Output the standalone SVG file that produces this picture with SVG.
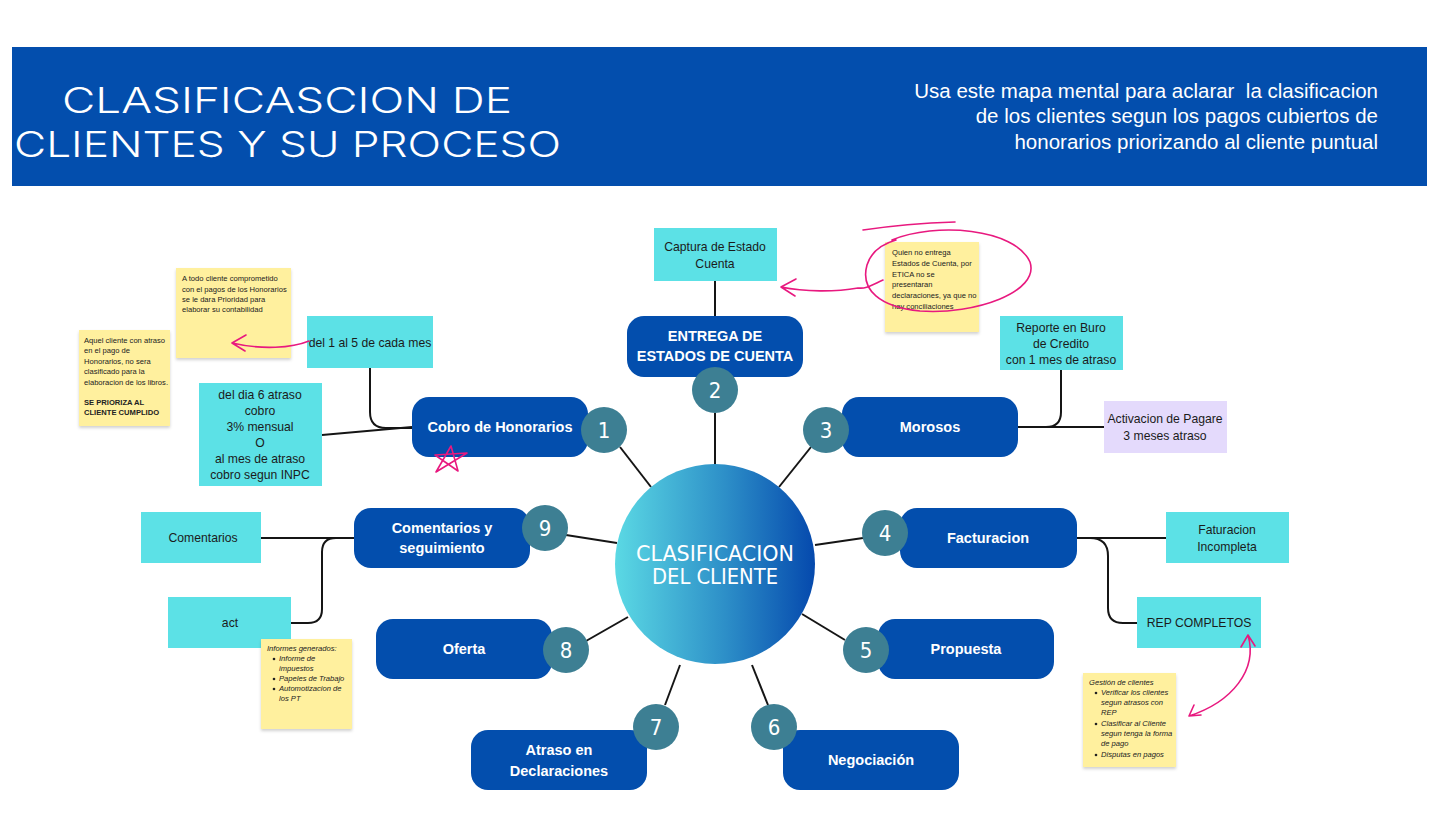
<svg xmlns="http://www.w3.org/2000/svg" width="1440" height="839" viewBox="0 0 1440 839">
<defs>
<linearGradient id="hubGrad" x1="0" y1="0" x2="1" y2="0">
<stop offset="0" stop-color="#5bd9e4"/>
<stop offset="0.55" stop-color="#2d8fc8"/>
<stop offset="1" stop-color="#0549ad"/>
</linearGradient>
<filter id="sh" x="-10%" y="-10%" width="120%" height="125%">
<feDropShadow dx="0" dy="2" stdDeviation="1.5" flood-color="#000" flood-opacity="0.18"/>
</filter>
</defs>
<style>
.node{fill:#034ead}
.num{fill:#3d7f93}
.numt{font-family:"DejaVu Sans Condensed","DejaVu Sans",sans-serif;font-size:22px;fill:#fff;text-anchor:middle}
.nt{font-family:"Liberation Sans",Arial,sans-serif;font-weight:bold;font-size:14.5px;fill:#fff;text-anchor:middle}
.cy{fill:#5ce1e6}
.lav{fill:#e4dafc}
.ct{font-family:"Liberation Sans",Arial,sans-serif;font-size:12.2px;fill:#1b1b1b;text-anchor:middle}
.st{fill:#fff09e;filter:url(#sh)}
.sn{font-family:"Liberation Sans",Arial,sans-serif;font-size:7.6px;fill:#222}
.si{font-family:"Liberation Sans",Arial,sans-serif;font-size:7.6px;fill:#222;font-style:italic}
.con{fill:none;stroke:#151515;stroke-width:2}
.pk{fill:none;stroke:#e8197f;stroke-width:1.6;stroke-linecap:round;stroke-linejoin:round}
.title{font-family:"Inter","DejaVu Sans",sans-serif;font-weight:300;font-size:35px;fill:#fff}
.sub{font-family:"Liberation Sans",Arial,sans-serif;font-size:20.5px;fill:#fff;text-anchor:end;white-space:pre}
</style>
<rect width="1440" height="839" fill="#fff"/>

<g id="header">
<rect x="12" y="47" width="1415" height="139" fill="#034ead"/>
<text class="title" x="62" y="113" textLength="450" lengthAdjust="spacingAndGlyphs">CLASIFICASCION DE</text>
<text class="title" x="14" y="157" textLength="547" lengthAdjust="spacingAndGlyphs">CLIENTES Y SU PROCESO</text>
<text class="sub" x="1378" y="98">Usa este mapa mental para aclarar  la clasificacion</text>
<text class="sub" x="1378" y="123">de los clientes segun los pagos cubiertos de</text>
<text class="sub" x="1378" y="149">honorarios priorizando al cliente puntual</text>
</g>

<g id="connectors">
<line class="con" x1="715" y1="413" x2="715" y2="465"/>
<line class="con" x1="620" y1="447" x2="651" y2="487"/>
<line class="con" x1="811" y1="447" x2="779" y2="487"/>
<line class="con" x1="863" y1="538" x2="815" y2="545"/>
<line class="con" x1="845" y1="640" x2="802" y2="614"/>
<line class="con" x1="768" y1="705" x2="752" y2="665"/>
<line class="con" x1="665" y1="705" x2="680" y2="665"/>
<line class="con" x1="586" y1="641" x2="628" y2="617"/>
<line class="con" x1="566" y1="535" x2="617" y2="543"/>
<line class="con" x1="715" y1="281" x2="715" y2="316"/>
<path class="con" d="M370,368 V412 Q370,428 386,428 H412"/>
<path class="con" d="M322,435 L412,427"/>
<path class="con" d="M1018,427 H1104"/>
<path class="con" d="M1061,370 V412 Q1061,427 1046,427 H1030"/>
<path class="con" d="M261,538 H354"/>
<path class="con" d="M291,623 H308 Q322,623 322,609 V552 Q322,538 336,538 H354"/>
<path class="con" d="M1077,538 H1166"/>
<path class="con" d="M1090,538 Q1108,538 1108,556 V608 Q1108,623 1123,623 H1137"/>
</g>

<g id="hub">
<circle cx="715" cy="564" r="100" fill="url(#hubGrad)"/>
<text x="715" y="561" font-family="DejaVu Sans Condensed,DejaVu Sans,sans-serif" font-size="22" fill="#fff" text-anchor="middle" textLength="158" lengthAdjust="spacingAndGlyphs">CLASIFICACION</text>
<text x="715" y="584" font-family="DejaVu Sans Condensed,DejaVu Sans,sans-serif" font-size="22" fill="#fff" text-anchor="middle" textLength="126" lengthAdjust="spacingAndGlyphs">DEL CLIENTE</text>
</g>

<g id="node2">
<rect class="node" x="627" y="316" width="176" height="61" rx="17"/>
<text class="nt" x="715" y="341">ENTREGA DE</text>
<text class="nt" x="715" y="361">ESTADOS DE CUENTA</text>
<circle class="num" cx="715" cy="390" r="23"/>
<text class="numt" x="715" y="398">2</text>
</g>
<g id="node1">
<rect class="node" x="412" y="397" width="176" height="60" rx="17"/>
<text class="nt" x="500" y="432">Cobro de Honorarios</text>
<circle class="num" cx="604" cy="430" r="23"/>
<text class="numt" x="604" y="438">1</text>
</g>
<g id="node3">
<rect class="node" x="842" y="397" width="176" height="60" rx="17"/>
<text class="nt" x="930" y="432">Morosos</text>
<circle class="num" cx="826" cy="430" r="23"/>
<text class="numt" x="826" y="438">3</text>
</g>
<g id="node4">
<rect class="node" x="900" y="508" width="177" height="60" rx="17"/>
<text class="nt" x="988" y="543">Facturacion</text>
<circle class="num" cx="885" cy="533" r="23"/>
<text class="numt" x="885" y="541">4</text>
</g>
<g id="node5">
<rect class="node" x="878" y="619" width="176" height="60" rx="17"/>
<text class="nt" x="966" y="654">Propuesta</text>
<circle class="num" cx="866" cy="650" r="23"/>
<text class="numt" x="866" y="658">5</text>
</g>
<g id="node6">
<rect class="node" x="783" y="730" width="176" height="60" rx="17"/>
<text class="nt" x="871" y="765">Negociación</text>
<circle class="num" cx="774" cy="727" r="23"/>
<text class="numt" x="774" y="735">6</text>
</g>
<g id="node7">
<rect class="node" x="471" y="730" width="176" height="60" rx="17"/>
<text class="nt" x="559" y="755">Atraso en</text>
<text class="nt" x="559" y="776">Declaraciones</text>
<circle class="num" cx="656" cy="727" r="23"/>
<text class="numt" x="656" y="735">7</text>
</g>
<g id="node8">
<rect class="node" x="376" y="619" width="176" height="60" rx="17"/>
<text class="nt" x="464" y="654">Oferta</text>
<circle class="num" cx="566" cy="650" r="23"/>
<text class="numt" x="566" y="658">8</text>
</g>
<g id="node9">
<rect class="node" x="354" y="508" width="176" height="60" rx="17"/>
<text class="nt" x="442" y="533">Comentarios y</text>
<text class="nt" x="442" y="553">seguimiento</text>
<circle class="num" cx="545" cy="528" r="23"/>
<text class="numt" x="545" y="536">9</text>
</g>

<g id="captura">
<rect class="cy" x="654" y="228" width="123" height="53"/>
<text class="ct" x="715" y="251">Captura de Estado</text>
<text class="ct" x="715" y="268">Cuenta</text>
</g>
<g id="del1al5">
<rect class="cy" x="307" y="316" width="126" height="52"/>
<text class="ct" x="370" y="347">del 1 al 5 de cada mes</text>
</g>
<g id="deldia6">
<rect class="cy" x="199" y="383" width="123" height="103"/>
<text class="ct" x="260" y="399">del dia 6 atraso</text>
<text class="ct" x="260" y="415">cobro</text>
<text class="ct" x="260" y="431">3% mensual</text>
<text class="ct" x="260" y="447">O</text>
<text class="ct" x="260" y="463">al mes de atraso</text>
<text class="ct" x="260" y="479">cobro segun INPC</text>
</g>
<g id="buro">
<rect class="cy" x="1000" y="316" width="123" height="54"/>
<text class="ct" x="1061" y="332">Reporte en Buro</text>
<text class="ct" x="1061" y="348">de Credito</text>
<text class="ct" x="1061" y="364">con 1 mes de atraso</text>
</g>
<g id="pagare">
<rect class="lav" x="1104" y="401" width="123" height="52"/>
<text class="ct" x="1165" y="423">Activacion de Pagare</text>
<text class="ct" x="1165" y="440">3 meses atraso</text>
</g>
<g id="comentarios">
<rect class="cy" x="141" y="512" width="120" height="51"/>
<text class="ct" x="203" y="542">Comentarios</text>
</g>
<g id="act">
<rect class="cy" x="168" y="597" width="123" height="51"/>
<text class="ct" x="230" y="627">act</text>
</g>
<g id="faturacion">
<rect class="cy" x="1166" y="512" width="123" height="51"/>
<text class="ct" x="1227" y="534">Faturacion</text>
<text class="ct" x="1227" y="551">Incompleta</text>
</g>
<g id="rep">
<rect class="cy" x="1137" y="597" width="124" height="51"/>
<text class="ct" x="1199" y="627">REP COMPLETOS</text>
</g>

<g id="noteA">
<rect class="st" x="176" y="268" width="115" height="90"/>
<text class="sn" x="182" y="281">A todo cliente comprometido</text>
<text class="sn" x="182" y="292">con el pagos de los Honorarios</text>
<text class="sn" x="182" y="302">se le dara Prioridad para</text>
<text class="sn" x="182" y="312">elaborar su contabilidad</text>
</g>
<g id="noteB">
<rect class="st" x="79" y="330" width="91" height="96"/>
<text class="sn" x="84" y="343">Aquel cliente con atraso</text>
<text class="sn" x="84" y="353">en el pago de</text>
<text class="sn" x="84" y="364">Honorarios, no sera</text>
<text class="sn" x="84" y="374">clasificado para la</text>
<text class="sn" x="84" y="385">elaboracion de los libros.</text>
<text class="sn" x="84" y="405" font-weight="bold">SE PRIORIZA AL</text>
<text class="sn" x="84" y="415" font-weight="bold">CLIENTE CUMPLIDO</text>
</g>
<g id="noteC">
<rect class="st" x="885" y="242" width="94" height="90"/>
<text class="sn" x="892" y="255">Quien no entrega</text>
<text class="sn" x="892" y="266">Estados de Cuenta, por</text>
<text class="sn" x="892" y="277">ETICA no se</text>
<text class="sn" x="892" y="287">presentaran</text>
<text class="sn" x="892" y="298">declaraciones, ya que no</text>
<text class="sn" x="892" y="309">hay conciliaciones</text>
</g>
<g id="noteD">
<rect class="st" x="261" y="639" width="91" height="90"/>
<text class="si" x="267" y="651">Informes generados:</text>
<circle cx="274" cy="659" r="1.3" fill="#222"/>
<text class="si" x="279" y="661">Informe de</text>
<text class="si" x="279" y="671">impuestos</text>
<circle cx="274" cy="679" r="1.3" fill="#222"/>
<text class="si" x="279" y="681">Papeles de Trabajo</text>
<circle cx="274" cy="689" r="1.3" fill="#222"/>
<text class="si" x="279" y="691">Automotizacion de</text>
<text class="si" x="279" y="701">los PT</text>
</g>
<g id="noteE">
<rect class="st" x="1083" y="673" width="93" height="94"/>
<text class="si" x="1089" y="685">Gestión de clientes</text>
<circle cx="1096" cy="693" r="1.3" fill="#222"/>
<text class="si" x="1101" y="695">Verificar los clientes</text>
<text class="si" x="1101" y="705">segun atrasos con</text>
<text class="si" x="1101" y="715">REP</text>
<circle cx="1096" cy="724" r="1.3" fill="#222"/>
<text class="si" x="1101" y="726">Clasificar al Cliente</text>
<text class="si" x="1101" y="736">segun tenga la forma</text>
<text class="si" x="1101" y="746">de pago</text>
<circle cx="1096" cy="755" r="1.3" fill="#222"/>
<text class="si" x="1101" y="757">Disputas en pagos</text>
</g>

<g id="annotations">
<path class="pk" d="M309,341 C292,348 262,350 232,343 M232,343 L246,335 M232,343 L245,351"/>
<path class="pk" d="M955,222 C925,223 890,226 863,230"/>
<path class="pk" d="M892,240 C935,222 1015,228 1030,262 C1040,292 975,315 920,311 C880,307 860,290 867,265 C871,252 882,244 896,240"/>
<path class="pk" d="M883,280 C870,286 866,289 858,288 C835,292 805,292 781,287 M781,287 L796,279 M781,287 L795,296"/>
<path class="pk" d="M436,472 L451,446 L458,471 L435,455 L467,453 Z"/>
<path class="pk" d="M1248,635 C1258,670 1232,702 1189,716 M1248,635 L1241,647 M1248,635 L1255,646 M1189,716 L1201,715 M1189,716 L1194,705"/>
</g>
</svg>
